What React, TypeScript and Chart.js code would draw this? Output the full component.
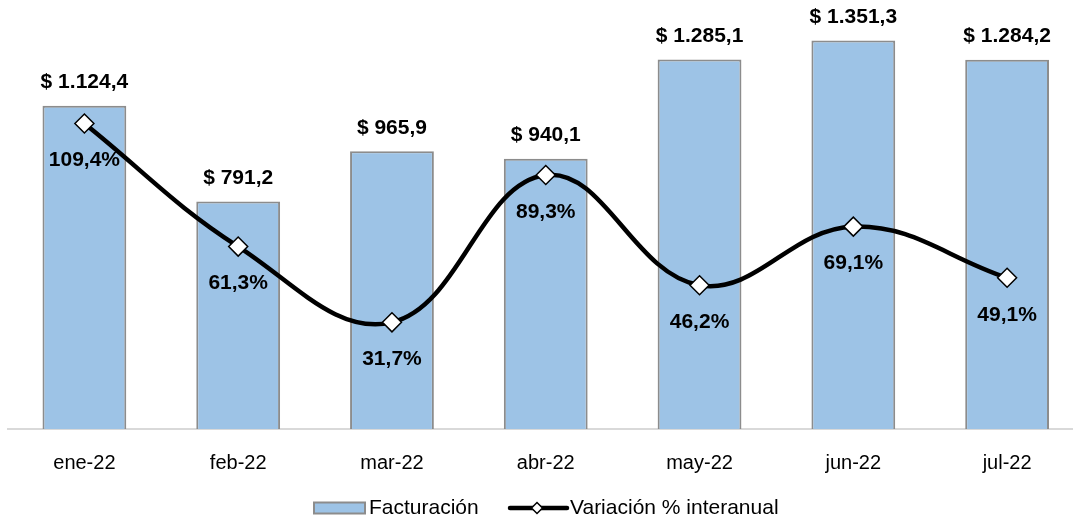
import React, { useEffect, useRef } from "react";
import { Chart, registerables } from "chart.js";

Chart.register(...registerables);

const categories = ["ene-22", "feb-22", "mar-22", "abr-22", "may-22", "jun-22", "jul-22"];
const facturacion = [1124.4, 791.2, 965.9, 940.1, 1285.1, 1351.3, 1284.2];
const variacion = [109.4, 61.3, 31.7, 89.3, 46.2, 69.1, 49.1];
const barLabels = ["$ 1.124,4", "$ 791,2", "$ 965,9", "$ 940,1", "$ 1.285,1", "$ 1.351,3", "$ 1.284,2"];
const lineLabels = ["109,4%", "61,3%", "31,7%", "89,3%", "46,2%", "69,1%", "49,1%"];
const legendLabels = ["Facturación", "Variación % interanual"];

const FONT = "'Liberation Sans', Arial, Helvetica, sans-serif";
const BAR_FILL = "#9dc3e6";
const BAR_BORDER = "#8c8c8c";
const CANVAS_W = 1091;

const labelPlugin = {
  id: "customLabels",
  afterDatasetsDraw(chart: any) {
    const ctx = chart.ctx;
    ctx.save();
    ctx.fillStyle = "#000";
    ctx.font = `bold 21px ${FONT}`;
    ctx.textAlign = "center";
    ctx.textBaseline = "middle";
    const barMeta = chart.getDatasetMeta(1);
    barMeta.data.forEach((el: any, i: number) => {
      ctx.fillText(barLabels[i], el.x, el.y - 23);
    });
    const lineMeta = chart.getDatasetMeta(0);
    lineMeta.data.forEach((el: any, i: number) => {
      ctx.fillText(lineLabels[i], el.x, el.y + 37);
    });
    ctx.restore();
  },
  afterDraw(chart: any) {
    const ctx = chart.ctx;
    ctx.save();
    const cy = 508;
    ctx.fillStyle = BAR_FILL;
    ctx.strokeStyle = BAR_BORDER;
    ctx.lineWidth = 2;
    ctx.fillRect(314, cy - 5.5, 51, 11);
    ctx.strokeRect(314, cy - 5.5, 51, 11);
    ctx.fillStyle = "#000";
    ctx.font = `21px ${FONT}`;
    ctx.textAlign = "left";
    ctx.textBaseline = "middle";
    ctx.fillText(legendLabels[0], 369, cy);
    ctx.strokeStyle = "#000";
    ctx.lineWidth = 4.5;
    ctx.lineCap = "round";
    ctx.beginPath();
    ctx.moveTo(510, cy);
    ctx.lineTo(567, cy);
    ctx.stroke();
    ctx.fillStyle = "#fff";
    ctx.lineWidth = 1.5;
    ctx.beginPath();
    const dx = 537, r = 5.5;
    ctx.moveTo(dx, cy - r);
    ctx.lineTo(dx + r, cy);
    ctx.lineTo(dx, cy + r);
    ctx.lineTo(dx - r, cy);
    ctx.closePath();
    ctx.fill();
    ctx.stroke();
    ctx.fillStyle = "#000";
    ctx.fillText(legendLabels[1], 570, cy);
    ctx.restore();
  },
};

export default function App() {
  const ref = useRef<HTMLCanvasElement | null>(null);
  useEffect(() => {
    if (!ref.current) return;
    const chart = new Chart(ref.current, {
      type: "bar",
      data: {
        labels: categories,
        datasets: [
          {
            type: "line",
            label: legendLabels[1],
            data: variacion,
            yAxisID: "y2",
            borderColor: "#000",
            borderWidth: 4.5,
            tension: 0.4,
            cubicInterpolationMode: "default",
            pointStyle: "rectRot",
            pointRadius: 9.5,
            pointBackgroundColor: "#fff",
            pointBorderColor: "#000",
            pointBorderWidth: 1.5,
            clip: false,
            order: 0,
          } as any,
          {
            type: "bar",
            label: legendLabels[0],
            data: facturacion,
            yAxisID: "y",
            backgroundColor: BAR_FILL,
            borderColor: BAR_BORDER,
            borderWidth: 2,
            borderSkipped: "bottom",
            categoryPercentage: 1,
            barPercentage: 0.545,
            order: 1,
          } as any,
        ],
      },
      options: {
        animation: false,
        responsive: false,
        maintainAspectRatio: false,
        layout: { autoPadding: false, padding: { left: 7.5, right: 7, top: 12, bottom: 31 } },
        plugins: {
          legend: { display: false },
          tooltip: { enabled: false },
        },
        scales: {
          x: {
            grid: { display: false },
            border: { display: true, color: "#d9d9d9", width: 2 },
            ticks: {
              color: "#000",
              font: { family: FONT, size: 20 },
              padding: 14,
            },
          },
          y: {
            display: false,
            min: 0,
            max: 1450,
          },
          y2: {
            display: false,
            min: -10,
            max: 153,
          },
        },
      },
      plugins: [labelPlugin],
    });
    return () => chart.destroy();
  }, []);
  return (
    <div style={{ position: "absolute", left: 0, top: 0, width: 1073, height: 520, overflow: "hidden", background: "#fff" }}>
      <canvas ref={ref} width={CANVAS_W} height={520} style={{ width: CANVAS_W, height: 520, display: "block" }} />
    </div>
  );
}
